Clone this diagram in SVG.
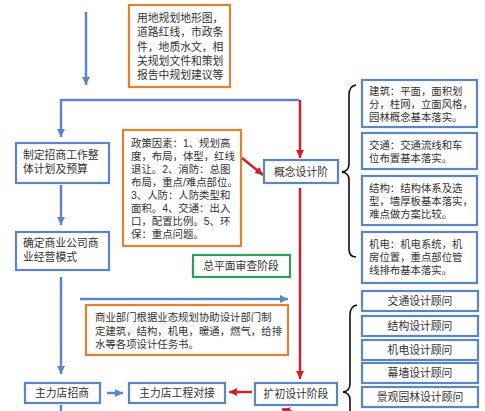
<svg xmlns="http://www.w3.org/2000/svg" width="485" height="411" viewBox="0 0 485 411">
<style>
text{font-family:"Liberation Sans","Noto Sans CJK SC",sans-serif;font-size:10.8px;fill:#333}
.s{font-size:10.4px}
.bb{fill:#fff;stroke:#5b86c5;stroke-width:2.2}
.ob{fill:#fff;stroke:#e2822f;stroke-width:2.2}
.gb{fill:#fff;stroke:#2e9e5a;stroke-width:2.2}
.bl{fill:none;stroke:#5b86c5;stroke-width:2.5}
.rl{fill:none;stroke:#d0202a;stroke-width:2.5}
.br{fill:none;stroke:#111;stroke-width:1.6}
.c{text-anchor:middle}
</style>
<defs>
<marker id="ab" markerUnits="userSpaceOnUse" markerWidth="10" markerHeight="10" refX="8" refY="4" orient="auto"><path d="M0,0L8,4L0,8z" fill="#5b86c5"/></marker>
<marker id="ar" markerUnits="userSpaceOnUse" markerWidth="10" markerHeight="10" refX="8" refY="4" orient="auto"><path d="M0,0L8,4L0,8z" fill="#d0202a"/></marker>
</defs>
<rect width="485" height="411" fill="#fff"/>
<g id="connectors">
<line class="bl" x1="86" y1="12" x2="86" y2="85" marker-end="url(#ab)"/>
<polyline class="bl" points="299,100 61,100 61,137" marker-end="url(#ab)"/>
<line class="rl" x1="300" y1="100" x2="300" y2="158" marker-end="url(#ar)"/>
<line class="bl" x1="61" y1="185" x2="61" y2="225" marker-end="url(#ab)"/>
<line class="bl" x1="61" y1="277" x2="61" y2="374" marker-end="url(#ab)"/>
<line class="bl" x1="61" y1="405" x2="61" y2="411"/>
<line class="rl" x1="242" y1="158" x2="263" y2="175" marker-end="url(#ar)"/>
<line class="rl" x1="300" y1="188" x2="300" y2="379" marker-end="url(#ar)"/>
<line class="bl" x1="80" y1="299" x2="288" y2="299" stroke-width="3" marker-end="url(#ab)"/>
<line class="bl" x1="107" y1="393" x2="123" y2="393" stroke-width="3" marker-end="url(#ab)"/>
<line class="rl" x1="252" y1="392" x2="229" y2="392" marker-end="url(#ar)"/>
<line class="rl" x1="296" y1="413" x2="282" y2="409" marker-end="url(#ar)"/>
<path class="br" d="M356,85 Q349,86 349,95 L349,164 Q349,171 342,172 Q349,173 349,180 L349,249 Q349,257 356,257"/>
<path class="br" d="M357,305 Q350,306 350,315 L350,384 Q350,391 343,392 Q350,393 350,400 L350,470 Q350,478 357,479"/>
</g>
<g id="n-top">
<rect class="ob" x="129" y="5" width="101" height="82"/>
<text x="137" y="22">用地规划地形图，</text>
<text x="137" y="36">道路红线，市政条</text>
<text x="137" y="51">件，地质水文，相</text>
<text x="137" y="65">关规划文件和策划</text>
<text x="137" y="79">报告中规划建议等</text>
</g>
<g id="n-plan">
<rect class="bb" x="16" y="143" width="93" height="40"/>
<text x="23" y="159">制定招商工作整</text>
<text x="23" y="173">体计划及预算</text>
</g>
<g id="n-mode">
<rect class="bb" x="16" y="232" width="93" height="38"/>
<text x="23" y="247">确定商业公司商</text>
<text x="23" y="261">业经营模式</text>
</g>
<g id="n-policy">
<rect class="ob" x="123" y="130" width="118" height="116"/>
<text class="s" x="131" y="147">政策因素：1、规划高</text>
<text class="s" x="131" y="160">度，布局，体型，红线</text>
<text class="s" x="131" y="173">退让。2、消防：总图</text>
<text class="s" x="131" y="186">布局，重点/难点部位。</text>
<text class="s" x="131" y="199">3、人防：人防类型和</text>
<text class="s" x="131" y="212">面积。4、交通：出入</text>
<text class="s" x="131" y="225">口，配置比例。5、环</text>
<text class="s" x="131" y="238">保：重点问题。</text>
</g>
<g id="n-concept">
<rect class="bb" x="264" y="160" width="74" height="23"/>
<text class="c" x="301" y="176">概念设计阶</text>
</g>
<g id="n-review">
<rect class="gb" x="193" y="255" width="97" height="22"/>
<text class="c" x="241" y="270">总平面审查阶段</text>
</g>
<g id="n-task">
<rect class="ob" x="86" y="305" width="202" height="50"/>
<text class="s" x="95" y="321">商业部门根据业态规划协助设计部门制</text>
<text class="s" x="95" y="335">定建筑，结构，机电，暖通，燃气，给排</text>
<text class="s" x="95" y="348">水等各项设计任务书。</text>
</g>
<g id="n-anchor">
<rect class="bb" x="25" y="383" width="75" height="20"/>
<text class="c" x="62" y="397">主力店招商</text>
</g>
<g id="n-eng">
<rect class="bb" x="129" y="383" width="96" height="20"/>
<text class="c" x="177" y="397">主力店工程对接</text>
</g>
<g id="n-prelim">
<rect class="bb" x="255" y="383" width="82" height="22"/>
<text class="c" x="296" y="398">扩初设计阶段</text>
</g>
<g id="n-arch">
<rect class="bb" x="362" y="80" width="115" height="47"/>
<text class="s" x="369" y="95">建筑：平面，面积划</text>
<text class="s" x="369" y="108">分，柱网，立面风格，</text>
<text class="s" x="369" y="121">园林概念基本落实。</text>
</g>
<g id="n-traffic">
<rect class="bb" x="362" y="133" width="115" height="36"/>
<text class="s" x="369" y="149">交通：交通流线和车</text>
<text class="s" x="369" y="162">位布置基本落实。</text>
</g>
<g id="n-struct">
<rect class="bb" x="362" y="176" width="115" height="49"/>
<text class="s" x="369" y="192">结构：结构体系及选</text>
<text class="s" x="369" y="205">型，墙厚板基本落实，</text>
<text class="s" x="369" y="218">难点做方案比较。</text>
</g>
<g id="n-mep">
<rect class="bb" x="362" y="232" width="115" height="51"/>
<text class="s" x="369" y="248">机电：机电系统，机</text>
<text class="s" x="369" y="261">房位置，重点部位管</text>
<text class="s" x="369" y="274">线排布基本落实。</text>
</g>
<g id="n-c1">
<rect class="bb" x="362" y="291" width="116" height="20"/>
<text class="c" x="420" y="305">交通设计顾问</text>
</g>
<g id="n-c2">
<rect class="bb" x="362" y="316" width="116" height="20"/>
<text class="c" x="420" y="330">结构设计顾问</text>
</g>
<g id="n-c3">
<rect class="bb" x="362" y="340" width="116" height="20"/>
<text class="c" x="420" y="354">机电设计顾问</text>
</g>
<g id="n-c4">
<rect class="bb" x="362" y="363" width="116" height="20"/>
<text class="c" x="420" y="377">幕墙设计顾问</text>
</g>
<g id="n-c5">
<rect class="bb" x="362" y="387" width="116" height="20"/>
<text class="c" x="420" y="401">景观园林设计顾问</text>
</g>
</svg>
